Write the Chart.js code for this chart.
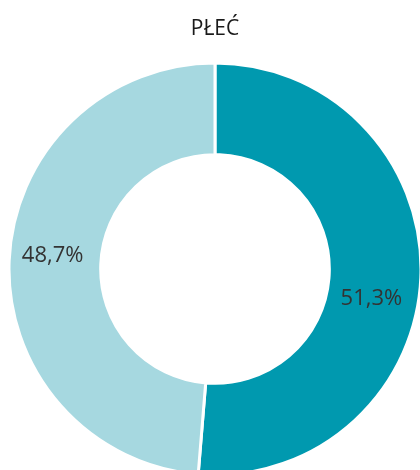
<!DOCTYPE html>
<html>
<head>
<meta charset="utf-8">
<script src="https://cdn.jsdelivr.net/npm/chart.js@4/dist/chart.umd.min.js"></script>
<style>
  html, body { margin: 0; padding: 0; background: #ffffff; overflow: hidden; }
  #wrap { width: 420px; height: 470px; }
</style>
</head>
<body>
<div id="wrap"><canvas id="c" width="420" height="470"></canvas></div>
<script>
const titleText = 'PŁEĆ';
const categories = ['Mężczyźni', 'Kobiety'];
const shares = [51.3, 48.7];
const sliceColors = ['#0099af', '#a6d8e0'];

const labelPlugin = {
  id: 'sliceLabels',
  afterDatasetsDraw(chart, args, opts) {
    const ctx = chart.ctx;
    const meta = chart.getDatasetMeta(0);
    ctx.save();
    ctx.font = opts.font;
    ctx.fillStyle = opts.color;
    ctx.textAlign = 'center';
    ctx.textBaseline = 'middle';
    meta.data.forEach((arc, i) => {
      const p = arc.getProps(['x', 'y', 'startAngle', 'endAngle', 'innerRadius', 'outerRadius'], true);
      const mid = (p.startAngle + p.endAngle) / 2 + (opts.shift[i] || 0) * Math.PI / 180;
      const r = p.innerRadius + (p.outerRadius - p.innerRadius) * opts.radial[i];
      const txt = chart.data.datasets[0].data[i].toFixed(1).replace('.', ',') + '%';
      ctx.fillText(txt, p.x + Math.cos(mid) * r, p.y + Math.sin(mid) * r);
    });
    ctx.restore();
  }
};

new Chart(document.getElementById('c'), {
  type: 'doughnut',
  data: {
    labels: categories,
    datasets: [{
      data: shares,
      backgroundColor: sliceColors,
      borderColor: '#ffffff',
      borderWidth: 3,
      radius: 206,
      cutout: '55.5%',
      hoverOffset: 0
    }]
  },
  options: {
    responsive: false,
    devicePixelRatio: 1,
    animation: false,
    layout: { padding: { left: 10, right: 0, top: 0, bottom: 0 } },
    plugins: {
      legend: { display: false },
      tooltip: { enabled: false },
      title: {
        display: true,
        text: titleText,
        color: '#1a1a1a',
        font: { family: 'Open Sans', size: 21, weight: 'normal', lineHeight: 1.2 },
        padding: { top: 16.4, bottom: 26.4 }
      },
      sliceLabels: {
        font: '22px "Open Sans"',
        color: '#333333',
        shift: [8.5, 2.5],
        radial: [0.49, 0.53]
      }
    }
  },
  plugins: [labelPlugin]
});
</script>
</body>
</html>
